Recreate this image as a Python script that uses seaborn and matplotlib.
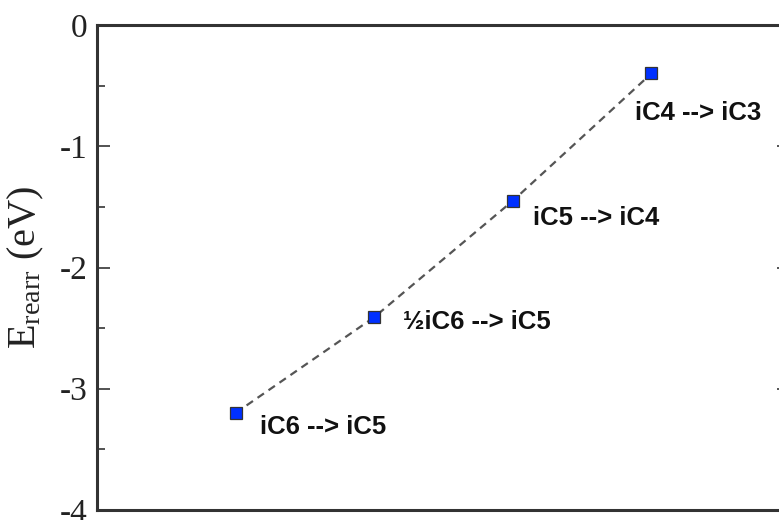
import matplotlib
matplotlib.use("Agg")
import matplotlib.pyplot as plt
import seaborn as sns
import pandas as pd
from matplotlib.ticker import MultipleLocator, FuncFormatter

# data
steps = [1, 2, 3, 4]
energies = [-3.20, -2.41, -1.45, -0.40]
labels = ["iC6 --> iC5", "\u00bdiC6 --> iC5", "iC5 --> iC4", "iC4 --> iC3"]
label_offsets_px = [(24, -14), (29, -5), (20, -17), (-16, -40)]

sns.set_theme(style="white")
plt.rcParams["font.family"] = ["Liberation Serif", "DejaVu Serif"]
plt.rcParams["mathtext.fontset"] = "custom"
plt.rcParams["mathtext.rm"] = "Liberation Serif"
plt.rcParams["mathtext.it"] = "Liberation Serif:italic"

df = pd.DataFrame({"step": steps, "E": energies})

fig = plt.figure(figsize=(7.79, 5.20), dpi=100)
ax = fig.add_axes([97/779, 10/520, 693/779, 485/520])

sns.lineplot(data=df, x="step", y="E", ax=ax, color="#555555", linestyle=(0, (3.5, 2.5)),
             linewidth=1.6, marker="s", markersize=9, markerfacecolor="#0030ff",
             markeredgecolor="#333333", markeredgewidth=0.9)

for x, y, lab, (dx, dy) in zip(steps, energies, labels, label_offsets_px):
    ax.annotate(lab, (x, y), xytext=(dx, dy), textcoords="offset pixels",
                ha="left", va="center", fontsize=18.5, fontweight="bold",
                family=["Liberation Sans", "DejaVu Sans"], color="#111111")

ax.set_xlim(0, 5)
ax.set_ylim(-4, 0)
ax.set_xticks([])
ax.yaxis.set_major_locator(MultipleLocator(1))
ax.yaxis.set_minor_locator(MultipleLocator(0.5))
ax.yaxis.set_major_formatter(FuncFormatter(lambda v, p: f"{int(round(v))}"))
ax.tick_params(axis="y", which="major", direction="in", length=9.5, width=1.3,
               color="#444444", left=True, right=True, labelsize=24, pad=7,
               labelcolor="#222222")
ax.tick_params(axis="y", which="minor", direction="in", length=5.5, width=1.3,
               color="#444444", left=True, right=False)
for s in ax.spines.values():
    s.set_color("#333333")
    s.set_linewidth(2.2)

ax.set_xlabel("")
ax.set_ylabel(r"$\mathregular{E_{rearr}}$ (eV)", fontsize=29, color="#222222", labelpad=10)

fig.savefig("out.png", dpi=100)
